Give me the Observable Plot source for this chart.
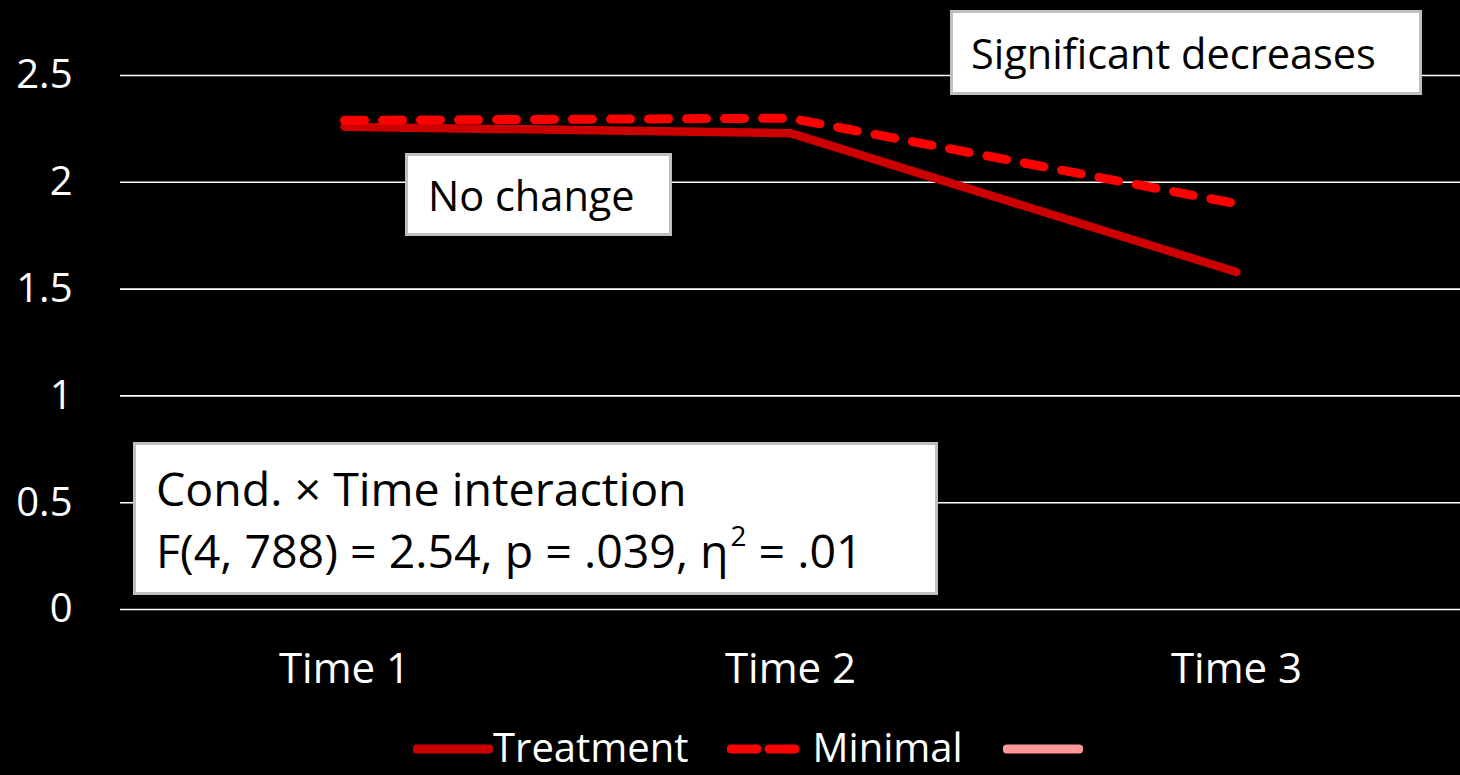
<!DOCTYPE html>
<html>
<head>
<meta charset="utf-8">
<script src="https://cdn.jsdelivr.net/npm/d3@7"></script>
<script src="https://cdn.jsdelivr.net/npm/@observablehq/plot@0.6"></script>
<style>
  html, body { margin: 0; padding: 0; background: #000; overflow: hidden; }
  #wrap { position: relative; width: 1460px; height: 775px; overflow: hidden; background: #000; font-family: "Open Sans", sans-serif; }
  .box { position: absolute; box-sizing: border-box; background: #fff; border: 3px solid #bfbfbf; color: #000; font-family: "Open Sans", sans-serif; white-space: nowrap; }
  .one { display: flex; align-items: center; }
  #legend { position: absolute; left: 413px; top: 719px; display: flex; align-items: center; color: #fff; font-size: 40px; line-height: normal; white-space: nowrap; }
  #legend .item { display: flex; align-items: center; }
  #legend svg { display: block; }
</style>
</head>
<body>
<div id="wrap">
  <div id="chart"></div>
  <div class="box one" style="left:405px; top:153px; width:267px; height:83px; padding-left:20px; font-size:41.5px;">No change</div>
  <div class="box one" style="left:950px; top:10px; width:472px; height:85px; padding-left:18px; font-size:41.5px;">Significant decreases</div>
  <div class="box" style="left:133px; top:442px; width:805px; height:153px; padding-left:20px; padding-top:12px; font-size:46.5px; line-height:62px;">Cond. × Time interaction<br>F(4, 788) = 2.54, p = .039, η<sup style="font-size:0.6em; line-height:0; vertical-align:0.8em; margin-left:2px;">2</sup> = .01</div>
  <div id="legend"></div>
</div>
<script>
const times = ["Time 1", "Time 2", "Time 3"];
const treatment = [2.26, 2.23, 1.58];
const minimal = [2.29, 2.30, 1.90];
const yTicks = [0, 0.5, 1, 1.5, 2, 2.5];
const seriesNames = ["Treatment", "Minimal", ""];
const seriesColors = ["#cc0000", "#ff0000", "#ff9999"];
const seriesDash = [null, "20,18", null];

const rows = [];
times.forEach((t, i) => {
  rows.push({time: t, value: treatment[i], series: "Treatment"});
  rows.push({time: t, value: minimal[i], series: "Minimal"});
});

const chart = Plot.plot({
  width: 1460,
  height: 715,
  marginLeft: 120,
  marginRight: 0,
  marginTop: 75,
  marginBottom: 106,
  style: {background: "#000", color: "#fff", fontFamily: "'Open Sans', sans-serif", fontSize: "40px", overflow: "visible"},
  x: {type: "point", domain: times, padding: 0.5, label: null},
  y: {domain: [0, 2.5], label: null},
  marks: [
    Plot.gridY(yTicks, {stroke: "#fff", strokeOpacity: 1, strokeWidth: 1.6}),
    Plot.axisY({ticks: yTicks, tickSize: 0, tickPadding: 48, tickFormat: d => String(d), fontSize: 40, label: null}),
    Plot.axisX({tickSize: 0, tickPadding: 44, fontSize: 42, label: null}),
    Plot.line(rows.filter(d => d.series === "Treatment"), {x: "time", y: "value", stroke: seriesColors[0], strokeWidth: 8.5, strokeLinecap: "round", strokeLinejoin: "round"}),
    Plot.line(rows.filter(d => d.series === "Minimal"), {x: "time", y: "value", stroke: seriesColors[1], strokeWidth: 9, strokeLinecap: "round", strokeLinejoin: "round", strokeDasharray: seriesDash[1]})
  ]
});
document.getElementById("chart").appendChild(chart);

// Legend
const legend = document.getElementById("legend");
const gaps = [0, 38, 40];
seriesNames.forEach((name, i) => {
  const item = document.createElement("div");
  item.className = "item";
  item.style.marginLeft = gaps[i] + "px";
  const ns = "http://www.w3.org/2000/svg";
  const svg = document.createElementNS(ns, "svg");
  svg.setAttribute("width", 80);
  svg.setAttribute("height", 14);
  svg.style.marginTop = "4px";
  const ln = document.createElementNS(ns, "line");
  ln.setAttribute("x1", 4); ln.setAttribute("x2", 76);
  ln.setAttribute("y1", 7); ln.setAttribute("y2", 7);
  ln.setAttribute("stroke", seriesColors[i]);
  ln.setAttribute("stroke-width", 9);
  ln.setAttribute("stroke-linecap", "round");
  if (seriesDash[i]) ln.setAttribute("stroke-dasharray", "26,12");
  svg.appendChild(ln);
  item.appendChild(svg);
  if (name) {
    const sp = document.createElement("span");
    sp.textContent = name;
    sp.style.marginLeft = (i === 0 ? 0 : 6) + "px";
    item.appendChild(sp);
  }
  legend.appendChild(item);
});
</script>
</body>
</html>
